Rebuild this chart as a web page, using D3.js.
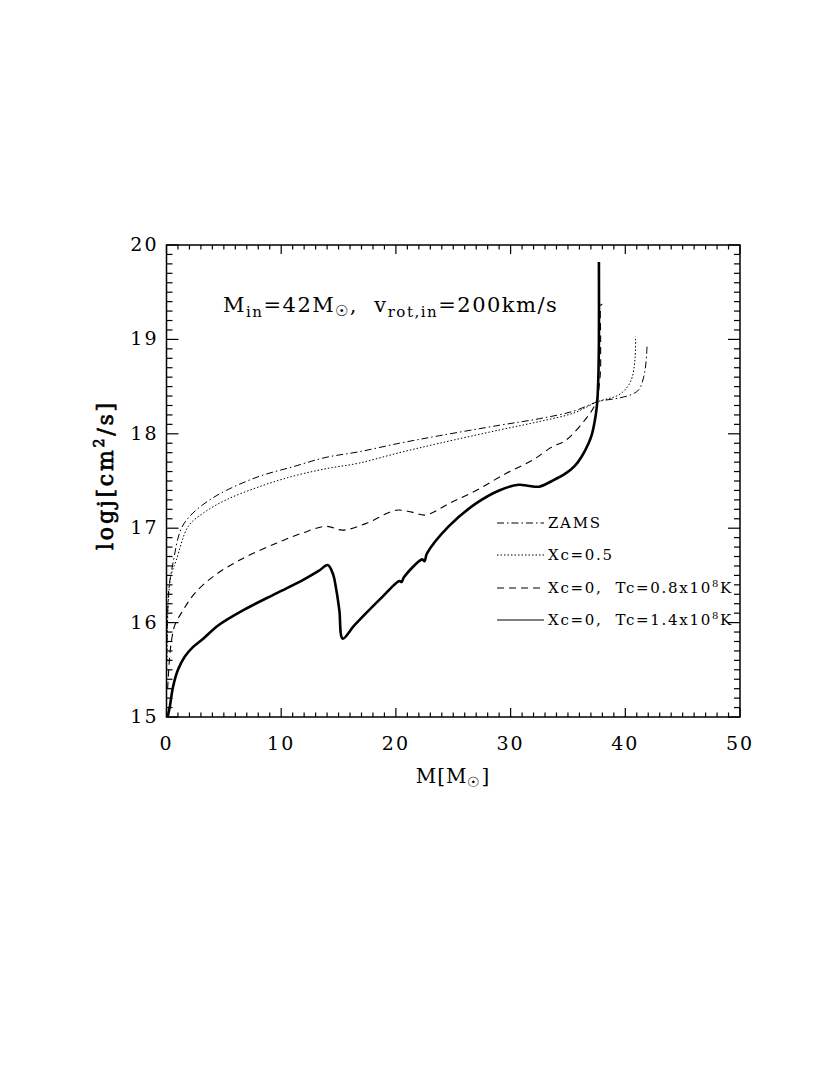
<!DOCTYPE html>
<html>
<head>
<meta charset="utf-8">
<script src="https://cdn.jsdelivr.net/npm/d3@7"></script>
<style>
  body { margin: 0; background: #fff; }
  svg { display: block; }
  text { font-family: "DejaVu Serif", serif; fill: #000; white-space: pre; }
</style>
</head>
<body>
<svg></svg>
<script>
// curves: [M (Msun), log j (cm^2/s)]
var zams = [[0.05,15.8],[0.2,16.35],[0.55,16.62],[1.3,17.0],[2.3,17.16],[3.77,17.3],[5.2,17.4],
    [8.1,17.55],[11.0,17.65],[13.9,17.75],[16.8,17.81],[20.3,17.9],[23.8,17.98],[29.0,18.09],
    [32.5,18.16],[35.5,18.24],[37.6,18.34],[39.5,18.38],[40.6,18.42],[41.2,18.47],[41.6,18.6],
    [41.8,18.75],[41.9,18.94]];
var xc05 = [[0.05,15.6],[0.15,16.2],[0.4,16.5],[0.85,16.66],[1.9,17.02],[3.2,17.16],[5.2,17.3],
    [8.1,17.44],[11.0,17.55],[13.9,17.63],[16.8,17.69],[20.3,17.8],[23.8,17.9],[29.0,18.04],
    [32.5,18.13],[35.5,18.22],[37.6,18.34],[39.4,18.41],[40.2,18.5],[40.6,18.6],[40.85,18.8],
    [40.9,19.03]];
var tc08 = [[0.1,15.3],[0.25,15.6],[0.45,15.82],[0.72,15.97],[1.44,16.13],[2.46,16.31],[4.2,16.5],
    [6.66,16.68],[9.57,16.84],[11.88,16.95],[13.9,17.02],[15.36,16.98],[17.4,17.05],[20.0,17.19],
    [21.4,17.17],[22.6,17.14],[24.6,17.26],[27.0,17.4],[29.6,17.58],[31.9,17.72],[33.6,17.86],
    [34.8,17.93],[36.5,18.15],[37.4,18.32],[37.8,18.6],[37.85,19.0],[37.9,19.37],[38.0,19.37]];
var tc14 = [[0.1,15.0],[0.29,15.11],[0.57,15.32],[1.0,15.5],[1.6,15.64],[2.3,15.74],[3.2,15.83],
    [4.5,15.97],[6.66,16.13],[9.57,16.31],[11.88,16.45],[13.3,16.55],[14.05,16.61],[14.5,16.52],
    [14.8,16.35],[15.07,16.13],[15.36,15.83],[16.3,15.96],[17.4,16.1],[18.8,16.27],[20.3,16.44],
    [20.5,16.43],[20.7,16.48],[22.3,16.67],[22.5,16.65],[22.7,16.73],[24.6,17.02],[26.96,17.26],
    [29.0,17.4],[30.7,17.46],[31.5,17.45],[32.5,17.44],[33.6,17.5],[34.8,17.58],[35.6,17.66],
    [36.2,17.76],[36.8,17.9],[37.1,18.0],[37.4,18.18],[37.55,18.33],[37.65,18.6],[37.7,19.0],
    [37.7,19.82]];

var xTicks = [0,10,20,30,40,50];
var yTicks = [15,16,17,18,19,20];
var legendLabels = ['ZAMS','Xc=0.5','Xc=0,  Tc=0.8x10','Xc=0,  Tc=1.4x10'];

var width = 830, height = 1075;
var pl = 166.5, pr = 740, pt = 245, pb = 717;

var svg = d3.select('svg').attr('width',width).attr('height',height);

var x = d3.scaleLinear().domain([0,50]).range([pl,pr]);
var y = d3.scaleLinear().domain([15,20]).range([pb,pt]);

var series = [
    {data: zams, dash: '7,3,1.5,3', w: 1},
    {data: xc05, dash: '1.5,2', w: 1},
    {data: tc08, dash: '7,5', w: 1.1},
    {data: tc14, dash: null, w: 2.6}
];

// frame
svg.append('rect')
    .attr('x',pl).attr('y',pt)
    .attr('width',pr-pl).attr('height',pb-pt)
    .attr('fill','none').attr('stroke','#000').attr('stroke-width',1.5);

// ticks pointing inward, on all four sides
var g = svg.append('g').attr('stroke','#000').attr('stroke-width',1.2);
d3.range(0,51,1).forEach(function(m){
    var len = (m%10==0)?9:4.5;
    g.append('line').attr('x1',x(m)).attr('x2',x(m)).attr('y1',pb).attr('y2',pb-len);
    g.append('line').attr('x1',x(m)).attr('x2',x(m)).attr('y1',pt).attr('y2',pt+len);
});
d3.range(150,201,1).forEach(function(k){
    var v = k/10;
    var len = (k%10==0)?12:6;
    g.append('line').attr('x1',pl).attr('x2',pl+len).attr('y1',y(v)).attr('y2',y(v));
    g.append('line').attr('x1',pr).attr('x2',pr-len).attr('y1',y(v)).attr('y2',y(v));
});

svg.selectAll('.xl').data(xTicks).enter().append('text')
    .attr('x',function(d){return x(d);})
    .attr('y',pb+33)
    .attr('text-anchor','middle')
    .style('font-size','19px')
    .style('letter-spacing','2px')
    .text(function(d){return d;});
svg.selectAll('.yl').data(yTicks).enter().append('text')
    .attr('x',pl-8)
    .attr('y',function(d){return y(d)+6;})
    .attr('text-anchor','end')
    .style('font-size','19px')
    .style('letter-spacing','2px')
    .text(function(d){return d;});

// axis titles
var xt = svg.append('text')
    .attr('x',453).attr('y',783)
    .attr('text-anchor','middle')
    .style('font-size','20px')
    .style('letter-spacing','1px');
xt.append('tspan').text('M[M');
xt.append('tspan').attr('dy',4).style('font-size','14px').text('\u2609');
xt.append('tspan').attr('dy',-4).text(']');

var yt = svg.append('text')
    .attr('transform','translate(113,475) rotate(-90)')
    .attr('text-anchor','middle')
    .style('font-size','22px')
    .style('letter-spacing','2.8px')
    .style('stroke','#000').style('stroke-width',0.7);
yt.append('tspan').text('logj[cm');
yt.append('tspan').attr('dy',-9).style('font-size','14px').text('2');
yt.append('tspan').attr('dy',9).text('/s]');

// title inside plot
var tt = svg.append('text')
    .attr('x',223).attr('y',312)
    .style('font-size','21px')
    .style('letter-spacing','1.5px');
tt.append('tspan').text('M');
tt.append('tspan').attr('dy',5).style('font-size','15px').text('in');
tt.append('tspan').attr('dy',-5).text('=42M');
tt.append('tspan').attr('dy',4).style('font-size','15px').text('\u2609');
tt.append('tspan').attr('dy',-4).text(',  v');
tt.append('tspan').attr('dy',5).style('font-size','15px').text('rot,in');
tt.append('tspan').attr('dy',-5).text('=200km/s');

// curves
var line = d3.line()
    .curve(d3.curveCatmullRom.alpha(0.5))
    .x(function(d){return x(d[0]);})
    .y(function(d){return y(d[1]);});
series.forEach(function(s){
    svg.append('path')
        .attr('d',line(s.data))
        .attr('fill','none')
        .attr('stroke','#000')
        .attr('stroke-width',s.w)
        .attr('stroke-linejoin','round')
        .attr('stroke-dasharray',s.dash);
});

// legend
var ly = [523,555,588,620];
series.forEach(function(s,i){
    svg.append('line')
        .attr('x1',497).attr('x2',544)
        .attr('y1',ly[i]).attr('y2',ly[i])
        .attr('stroke','#000')
        .attr('stroke-width',1)
        .attr('stroke-dasharray',s.dash);
    var t = svg.append('text')
        .attr('x',548).attr('y',ly[i]+5)
        .style('font-size','15px')
        .style('letter-spacing','1.7px');
    t.append('tspan').text(legendLabels[i]);
    if(i>=2){
        t.append('tspan').attr('dy',-6).style('font-size','10px').text('8');
        t.append('tspan').attr('dy',6).text('K');
    }
});
</script>
</body>
</html>
